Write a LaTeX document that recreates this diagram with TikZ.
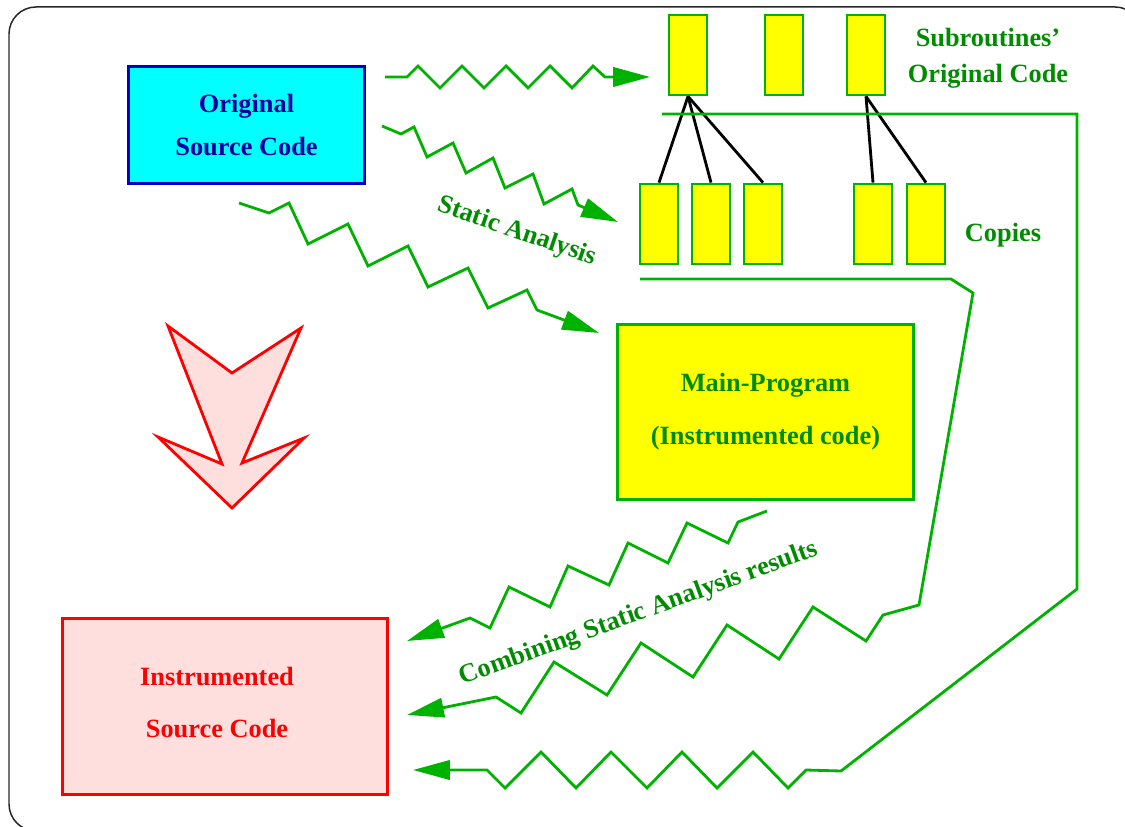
\documentclass[tikz,border=0pt]{standalone}
\usepackage{fontspec}
\setmainfont{Liberation Serif}
\usetikzlibrary{arrows.meta}
\definecolor{lgreen}{RGB}{0,178,0}
\definecolor{tgreen}{RGB}{0,140,0}
\definecolor{dblue}{RGB}{0,0,165}
\definecolor{bblue}{RGB}{0,0,200}
\definecolor{cyanfill}{RGB}{0,255,255}
\definecolor{yfill}{RGB}{255,255,0}
\definecolor{rline}{RGB}{255,0,0}
\definecolor{pinkfill}{RGB}{255,222,222}
\tikzset{
  wave/.style={draw=lgreen, line width=1.6pt, -{Triangle[length=21pt,width=11pt]}},
  sub/.style={draw=lgreen, fill=yfill, line width=1.6pt, minimum width=0.76cm, minimum height=1.6cm, inner sep=0pt},
  lbl/.style={text=tgreen, font=\fontsize{15}{18}\selectfont\bfseries, inner sep=0pt},
  bigbox/.style={line width=1.6pt, align=center, font=\fontsize{15}{18}\selectfont\bfseries},
}

\begin{document}
\begin{tikzpicture}[x=0.02cm, y=-0.02cm]
    \useasboundingbox (0,0) rectangle (1125,827);
    \draw[line width=0.85pt, black!85, rounded corners=0.54cm] (9,7) rectangle (1142,831);

    \node [bigbox, draw=bblue, fill=cyanfill, text=dblue, minimum width=4.72cm, minimum height=2.34cm] (orig) at (246.5,125) {Original\\[6pt]Source Code};
    \node [bigbox, draw=lgreen, fill=yfill, text=tgreen, minimum width=5.92cm, minimum height=3.5cm] (main) at (765.5,412) {Main-Program\\[12pt](Instrumented code)};
    \node [bigbox, draw=rline, fill=pinkfill, minimum width=6.5cm, minimum height=3.52cm] (instr) at (225,706.5) {};
    \node [bigbox, text=rline] (instrl) at ([xshift=-0.16cm, yshift=0.08cm]instr.center) {Instrumented\\[12pt]Source Code};

    \node [sub] (s1) at (688,55) {};
    \node [sub] (s2) at (784,55) {};
    \node [sub] (s3) at (866,55) {};
    \foreach \n/\x in {1/659, 2/711, 3/763, 4/873, 5/926}
        \node [sub] (c\n) at (\x,224) {};

    \node [lbl, align=center] (subl) at (988,58) {Subroutines'\\[2.4pt]Original Code};
    \node [lbl] (copl) at (1003,235) {Copies};
    \node [lbl, rotate=-19] (sal) at (517,232) {Static Analysis};
    \node [lbl, rotate=20] (csal) at (639,614) {Combining Static Analysis results};

    \draw[line width=1.6pt] (s1.south) -- (c1.north);
    \draw[line width=1.6pt] (s1.south) -- (c2.north);
    \draw[line width=1.6pt] (s1.south) -- (c3.north);
    \draw[line width=1.6pt] (s3.south) -- (c4.north);
    \draw[line width=1.6pt] (s3.south) -- (c5.north);

    \draw[rline, fill=pinkfill, line width=1.6pt] (168,326) -- (232,373) -- (301,328) -- (242,463) -- (304,438) -- (232,508) -- (158,437) -- (222,464) -- cycle;

    \coordinate (w1a) at (385,77);
    \coordinate (w1b) at (650,77);
    \coordinate (w2a) at (382,126);
    \coordinate (w2b) at (618,222);
    \coordinate (w3a) at (239,203);
    \coordinate (w3b) at (599,333);
    \coordinate (w4a) at (767,511);
    \coordinate (w4b) at (407,641);
    \coordinate (w5a) at (640,279);
    \coordinate (w5b) at (407,715);
    \coordinate (w6a) at (662,114);
    \coordinate (w6b) at (413,770);

    \draw[wave] (w1a) -- (407,77) -- (418,66) -- (440,88) -- (462,66) -- (484,88) -- (506,66) -- (528,88) -- (550,66) -- (572,88) -- (593,66) -- (605,77) -- (w1b);
    \draw[wave] (w2a) -- (401,134) -- (414,127) -- (427,157) -- (453,143) -- (466,173) -- (493,158) -- (505,188) -- (533,174) -- (544,204) -- (572,189) -- (578,205) -- (w2b);
    \draw[wave] (w3a) -- (269,213) -- (289,203) -- (308,244) -- (348,224) -- (368,266) -- (408,246) -- (428,287) -- (468,268) -- (488,308) -- (527,290) -- (537,310) -- (w3b);
    \draw[wave] (w4a) -- (738,522) -- (728,543) -- (687,523) -- (668,563) -- (628,543) -- (609,585) -- (568,566) -- (550,607) -- (509,587) -- (490,628) -- (470,618) -- (w4b);
    \draw[wave] (w5a) -- (951,279) -- (973,293) -- (919,605) -- (883,615) -- (866,641) -- (813,607) -- (779,659) -- (727,625) -- (693,677) -- (641,643) -- (607,695) -- (554,662) -- (521,713) -- (496,697) -- (w5b);
    \draw[wave] (w6a) -- (1077,114) -- (1077,589) -- (841,771) -- (806,770) -- (788,788) -- (753,752) -- (717,788) -- (682,752) -- (647,788) -- (611,752) -- (576,788) -- (541,752) -- (505,788) -- (487,770) -- (w6b);
\end{tikzpicture}
\end{document}
